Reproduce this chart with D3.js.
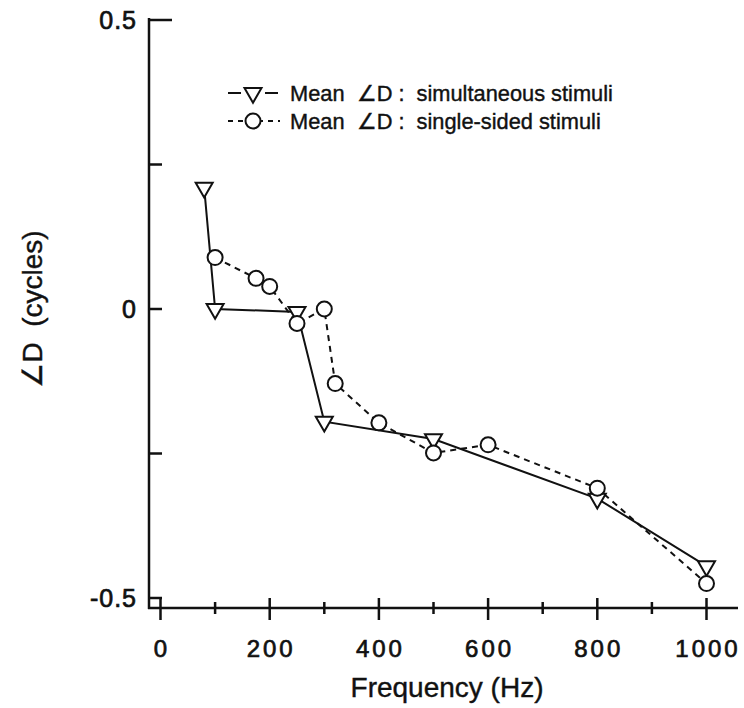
<!DOCTYPE html>
<html>
<head>
<meta charset="utf-8">
<script src="https://cdn.jsdelivr.net/npm/d3@7"></script>
<style>
  html, body { margin: 0; padding: 0; background: #fff; }
  svg { display: block; }
  text { font-family: "Liberation Sans", Arial, Helvetica, sans-serif; fill: #111; white-space: pre; }
</style>
</head>
<body>
<svg id="chart" width="744" height="708"></svg>
<script>
// Mean interaural phase difference ∠D versus frequency
const simFreq = [80, 100, 250, 300, 500, 800, 1000];
const simVal = [0.21, 0.0, -0.005, -0.195, -0.225, -0.328, -0.445];

const singleFreq = [100, 175, 200, 250, 300, 320, 400, 500, 600, 800, 1000];
const singleVal = [0.089, 0.053, 0.039, -0.025, 0.0, -0.129, -0.197, -0.249, -0.235, -0.31, -0.475];

const xMajorTicks = [0, 200, 400, 600, 800, 1000];
const xMinorTicks = [100, 300, 500, 700, 900];
const yTicks = [0.5, 0.25, 0, -0.25, -0.5];
const yLabels = [0.5, 0, -0.5];

const legendLabels = ["Mean  \u2220D :  simultaneous stimuli", "Mean  \u2220D :  single-sided stimuli"];

const svg = d3.select("#chart");
const x = d3.scaleLinear().domain([0, 1000]).range([160.5, 706.5]);
const y = d3.scaleLinear().domain([-0.5, 0.5]).range([598, 20]);

const axisX = 149, axisY = 608;
const ink = "#111";

// heavier text weight, like the printed figure
function ink_text(sel, w) {
  return sel.attr("stroke", ink).attr("stroke-width", w).attr("paint-order", "stroke");
}

// x axis
const gx = svg.append("g");
gx.append("line").attr("x1", axisX - 1).attr("x2", 738).attr("y1", axisY).attr("y2", axisY)
  .attr("stroke", ink).attr("stroke-width", 2.5);
gx.selectAll(".maj").data(xMajorTicks).join("line")
  .attr("x1", d => x(d)).attr("x2", d => x(d)).attr("y1", axisY - 10).attr("y2", axisY + 12)
  .attr("stroke", ink).attr("stroke-width", 2.5);
gx.selectAll(".min").data(xMinorTicks).join("line")
  .attr("x1", d => x(d)).attr("x2", d => x(d)).attr("y1", axisY - 6).attr("y2", axisY + 6)
  .attr("stroke", ink).attr("stroke-width", 2.5);
ink_text(gx.selectAll("text").data(xMajorTicks).join("text")
  .attr("x", d => x(d) + 1.5).attr("y", 657)
  .attr("text-anchor", "middle").attr("font-size", 24).attr("letter-spacing", 3)
  .text(d => d), 0.7);
ink_text(svg.append("text").attr("x", 447).attr("y", 697).attr("text-anchor", "middle")
  .attr("font-size", 28).text("Frequency (Hz)"), 0.4);

// y axis
const gy = svg.append("g");
gy.append("line").attr("x1", axisX).attr("x2", axisX).attr("y1", 18).attr("y2", axisY + 1)
  .attr("stroke", ink).attr("stroke-width", 2.5);
gy.selectAll("line.t").data(yTicks).join("line").attr("class", "t")
  .attr("x1", axisX).attr("x2", d => axisX + (d === 0.5 ? 23 : 13))
  .attr("y1", d => y(d)).attr("y2", d => y(d))
  .attr("stroke", ink).attr("stroke-width", 2.5);
ink_text(gy.selectAll("text").data(yLabels).join("text")
  .attr("x", 137).attr("y", d => y(d) + 9)
  .attr("text-anchor", "end").attr("font-size", 25).attr("letter-spacing", 1)
  .text(d => d), 0.7);
ink_text(svg.append("text")
  .attr("transform", `translate(42, ${y(0)}) rotate(-90)`)
  .attr("text-anchor", "middle").attr("font-size", 28)
  .text("\u2220D  (cycles)"), 0.4);

// series
const line = d3.line().x(d => x(d[0])).y(d => y(d[1]));
const simPts = simFreq.map((f, i) => [f, simVal[i]]);
const singlePts = singleFreq.map((f, i) => [f, singleVal[i]]);

svg.append("path").datum(singlePts).attr("d", line)
  .attr("fill", "none").attr("stroke", ink).attr("stroke-width", 2).attr("stroke-dasharray", "6,5");
svg.append("path").datum(simPts).attr("d", line)
  .attr("fill", "none").attr("stroke", ink).attr("stroke-width", 2);

const tri = d3.symbol().type(d3.symbolTriangle).size(125);
function drawTri(g, cx, cy) {
  g.append("path").attr("d", tri())
    .attr("transform", `translate(${cx},${cy}) rotate(180)`)
    .attr("fill", "#fff").attr("stroke", ink).attr("stroke-width", 2);
}
function drawCirc(g, cx, cy) {
  g.append("circle").attr("cx", cx).attr("cy", cy).attr("r", 7.5)
    .attr("fill", "#fff").attr("stroke", ink).attr("stroke-width", 2);
}

const gm = svg.append("g");
simPts.forEach(d => drawTri(gm, x(d[0]), y(d[1])));
singlePts.forEach(d => drawCirc(gm, x(d[0]), y(d[1])));

// legend
const lg = svg.append("g");
const ly = [93, 121];
lg.append("line").attr("x1", 228).attr("x2", 241).attr("y1", ly[0]).attr("y2", ly[0])
  .attr("stroke", ink).attr("stroke-width", 2);
lg.append("line").attr("x1", 265).attr("x2", 278).attr("y1", ly[0]).attr("y2", ly[0])
  .attr("stroke", ink).attr("stroke-width", 2);
drawTri(lg, 253, ly[0]);
lg.append("line").attr("x1", 228).attr("x2", 280).attr("y1", ly[1]).attr("y2", ly[1])
  .attr("stroke", ink).attr("stroke-width", 2).attr("stroke-dasharray", "5,5");
drawCirc(lg, 253, ly[1]);
ink_text(lg.selectAll("text").data(legendLabels).join("text")
  .attr("x", 290).attr("y", (d, i) => ly[i] + 8)
  .attr("font-size", 21.8).text(d => d), 0.4);
</script>
</body>
</html>
